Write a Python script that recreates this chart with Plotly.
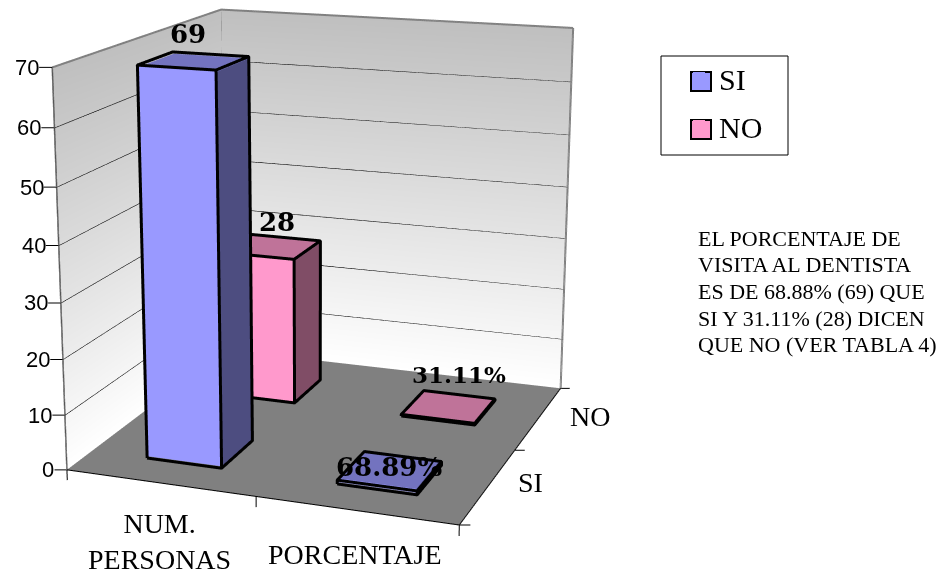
import numpy as np
import plotly.graph_objects as go

categories = ["NUM.<br>PERSONAS", "PORCENTAJE"]
series_names = ["SI", "NO"]
si_values = [69, 0.6889]
no_values = [28, 0.3111]
si_labels = ["69", "68.89%"]
no_labels = ["28", "31.11%"]
z_ticks = [0, 10, 20, 30, 40, 50, 60, 70]
note_lines = ["EL PORCENTAJE DE", "VISITA AL DENTISTA", "ES DE 68.88% (69) QUE",
              "SI Y 31.11% (28) DICEN", "QUE NO (VER TABLA 4)"]

# camera and framing
EYE = np.array([0.9764, -2.7309, 0.7679])
CENTER = np.array([-0.0126, -0.0119, -0.0250])
HALF = np.array([0.3034, 0.3071, 0.3028])
K = 0.5
FIG_H, FIG_W = 1613, 945
TOP = -548
U0 = 318
XR, YR, ZR = [-0.25, 2.25], [-0.25, 2.25], [-5, 75]
aspect = dict(x=HALF[0]*1.25/K, y=HALF[1]*1.25/K, z=HALF[2]*40/35/K)
fv = (EYE-CENTER)/np.linalg.norm(EYE-CENTER)
sv = np.array([-fv[1], fv[0], 0.0]); sv /= np.linalg.norm(sv)
def px_dir(n):
    w = n/650.0
    return sv[0]*w/HALF[0], sv[1]*w/HALF[1]
# small step toward the camera, in data units, so outlines sit in front of their faces
NUDGE = 0.025*fv/np.array([HALF[0], HALF[1], HALF[2]/35])

SER = [dict(front="#9999FF", side="#4D4D80", top="#7373BF"),
       dict(front="#FF99CC", side="#804D66", top="#BF7399")]
LIGHT = dict(ambient=1, diffuse=0, specular=0, roughness=1, fresnel=0)
fig = go.Figure()

def quad_mesh(corners, colors=None, color=None):
    xs, ys, zs = zip(*corners)
    kw = dict(vertexcolor=colors) if colors else dict(facecolor=[color, color])
    fig.add_trace(go.Mesh3d(x=xs, y=ys, z=zs, i=[0, 0], j=[1, 2], k=[2, 3], flatshading=True,
                            lighting=LIGHT, hoverinfo="skip", showlegend=False, **kw))

def lines(segs, color, width, nudge=False):
    xs, ys, zs = [], [], []
    for s in segs:
        for p in s:
            q = np.array(p, float)+NUDGE if nudge else p
            xs.append(float(q[0])); ys.append(float(q[1])); zs.append(float(q[2]))
        xs.append(None); ys.append(None); zs.append(None)
    fig.add_trace(go.Scatter3d(x=xs, y=ys, z=zs, mode="lines", line=dict(color=color, width=width),
                               hoverinfo="skip", showlegend=False))

zt = z_ticks[-1]
W0, W1 = "#FFFFFF", "#BFBFBF"
quad_mesh([(0, 0, 0), (0, 2, 0), (0, 2, zt), (0, 0, zt)], colors=[W0, W0, W1, W1])
quad_mesh([(0, 2, 0), (2, 2, 0), (2, 2, zt), (0, 2, zt)], colors=[W0, W0, W1, W1])
quad_mesh([(0, 0, 0), (2, 0, 0), (2, 2, 0), (0, 2, 0)], color="#808080")

lines([[(0, 0, v), (0, 2, v), (2, 2, v)] for v in z_ticks[1:-1]], "#000000", 2)
lines([[(0, 0, zt), (0, 2, zt), (2, 2, zt)], [(0, 2, 0), (0, 2, zt)], [(2, 2, 0), (2, 2, zt)]], "#808080", 4)
lines([[(0, 0, 0), (0, 0, zt)]], "#555555", 3)
dx, dy = px_dir(10)
ticks = [[(0, 0, v), (-dx*1.2, -dy*1.2, v)] for v in z_ticks]
ticks += [[(i, 0, 0), (i, 0, -1.9)] for i in range(3)]
ticks += [[(2, j, 0), (2+dx, j+dy, 0)] for j in range(3)]
ticks += [[(0, 0, 0), (2, 0, 0), (2, 2, 0)]]
lines(ticks, "#000000", 2)

GAP0, GAP1 = 0.3, 0.7
for j, vals in enumerate([si_values, no_values]):
    for i, val in enumerate(vals):
        x0, x1, y0, y1 = i+GAP0, i+GAP1, j+GAP0, j+GAP1
        c = SER[j]
        quad_mesh([(x0, y0, 0), (x1, y0, 0), (x1, y0, val), (x0, y0, val)], color=c["front"])
        quad_mesh([(x1, y0, 0), (x1, y1, 0), (x1, y1, val), (x1, y0, val)], color=c["side"])
        quad_mesh([(x0, y0, val), (x1, y0, val), (x1, y1, val), (x0, y1, val)], color=c["top"])
        lines([[(x0, y0, 0), (x1, y0, 0), (x1, y1, 0), (x1, y1, val), (x0, y1, val), (x0, y0, val), (x0, y0, 0)],
               [(x1, y0, 0), (x1, y0, val), (x0, y0, val)], [(x1, y0, val), (x1, y1, val)]], "#000000", 6, nudge=True)

for j, name in enumerate(series_names):
    fig.add_trace(go.Scatter3d(x=[None], y=[None], z=[None], mode="markers", name=name, legendgroup=name,
                               marker=dict(symbol="square", size=14, color=SER[j]["front"],
                                           line=dict(color=SER[j]["front"], width=0))))

SERIF = "Liberation Serif"
BOLD = dict(family="DejaVu Serif", size=26, color="#000000", weight=900)
BOLD_S = dict(BOLD, size=23)
ann = []
def label(x, y, z, text, font, xs=0, ys=0, xa="center", align="center"):
    ann.append(dict(x=x, y=y, z=z, text=text, showarrow=False, font=font, xshift=xs, yshift=ys,
                    xanchor=xa, yanchor="middle", align=align))
for v in z_ticks:
    label(0, 0, v, str(v), dict(family="Liberation Sans", size=22, color="#000000"), xs=-11, ys=0, xa="right")
cat_font = dict(family=SERIF, size=28, color="#000000")
label(0.5, 0, 0, categories[0], cat_font, xs=0, ys=-59)
label(1.5, 0, 0, categories[1], cat_font, xs=-1, ys=-44)
label(2, 0.5, 0, series_names[0], cat_font, xs=42, ys=3)
label(2, 1.5, 0, series_names[1], cat_font, xs=51, ys=1)
label(0.5, 0.5, si_values[0], si_labels[0], BOLD, xs=-7, ys=29)
label(0.5, 1.5, no_values[0], no_labels[0], BOLD, xs=4, ys=25)
label(1.5, 0.5, si_values[1], si_labels[1], BOLD, xs=0, ys=2)
label(1.5, 1.5, no_values[1], no_labels[1], BOLD_S, xs=11, ys=31)

def py(y):
    return 1-(y-TOP)/FIG_H

def rect(x0, x1, y0, y1, fill=None, width=1):
    return dict(type="rect", xref="paper", yref="paper", x0=x0/FIG_W, x1=x1/FIG_W, y0=py(y0), y1=py(y1),
                line=dict(color="#000000", width=width), fillcolor=fill)

axis = dict(visible=False, showspikes=False)
note_ann = [dict(xref="paper", yref="paper", x=696/FIG_W, y=py(238+26.7*n), text=t, showarrow=False,
                 xanchor="left", yanchor="middle", align="left",
                 font=dict(family=SERIF, size=22, color="#000000")) for n, t in enumerate(note_lines)]
fig.update_layout(
    width=FIG_W, height=FIG_H, margin=dict(l=0, r=0, t=0, b=0), autosize=False,
    paper_bgcolor="#FFFFFF",
    scene=dict(domain=dict(x=[0, 2*U0/FIG_W], y=[0, 1]),
               xaxis=dict(range=XR, **axis), yaxis=dict(range=YR, **axis), zaxis=dict(range=ZR, **axis),
               aspectmode="manual", aspectratio=aspect,
               camera=dict(eye=dict(x=EYE[0], y=EYE[1], z=EYE[2]),
                           center=dict(x=CENTER[0], y=CENTER[1], z=CENTER[2]),
                           up=dict(x=0, y=0, z=1), projection=dict(type="perspective")),
               annotations=ann, bgcolor="rgba(0,0,0,0)"),
    showlegend=True,
    legend=dict(x=679/FIG_W, y=py(52), xanchor="left", yanchor="top", bgcolor="rgba(0,0,0,0)",
                borderwidth=0, font=dict(family=SERIF, size=30, color="#000000"),
                tracegroupgap=6, traceorder="grouped", itemsizing="constant"),
    shapes=[rect(661, 788, 56, 155),
            rect(691, 711, 72, 91, SER[0]["front"], 2),
            rect(691, 711, 120, 139, SER[1]["front"], 2)],
    annotations=note_ann,
)
post = ("document.documentElement.style.overflow='hidden';document.body.style.margin='0';document.body.style.overflow='hidden';"
        "var g=document.getElementById('{plot_id}');g.style.position='absolute';g.style.left='0px';g.style.top='%dpx';" % TOP)
fig.write_html("out.html", config=dict(displayModeBar=False), post_script=post)
